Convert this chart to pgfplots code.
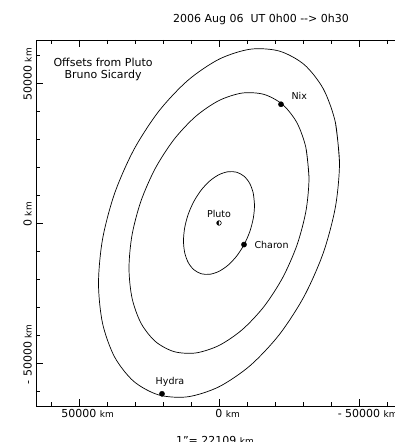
\documentclass[border=0pt]{standalone}
\usepackage{fontspec}
\setmainfont{DejaVu Sans}
\usepackage{pgfplots}
\pgfplotsset{compat=1.18}
\usetikzlibrary{plotmarks}
\newcommand\km{{\hspace{3.5pt}\fontsize{9}{10}\selectfont km}}
\newcommand\lab[1]{\phantom{\km}#1\km}
\begin{document}
\begin{tikzpicture}[font=\fontsize{11}{13}\selectfont]
\begin{axis}[
  scale only axis, width=366pt, height=366pt,
  xmin=-65357, xmax=65357, ymin=-65357, ymax=65357,
  x dir=reverse,
  scaled ticks=false,
  axis line style={line width=0.8pt},
  tick align=inside,
  xtick={-50000,0,50000},
  xticklabels={{\lab{- 50000}},{\lab{0}},{\lab{50000}}},
  ytick={-50000,0,50000},
  yticklabels={{\lab{- 50000}},{\lab{0}},{\lab{50000}}},
  minor xtick={-60000,-40000,-30000,-20000,-10000,10000,20000,30000,40000,60000},
  minor ytick={-60000,-40000,-30000,-20000,-10000,10000,20000,30000,40000,60000},
  major tick length=7pt, minor tick length=4pt,
  tick style={black, line width=0.8pt},
  tick label style={font=\fontsize{11}{13}\selectfont, inner sep=0pt},
  xticklabel style={anchor=north},
  yticklabel style={rotate=90, anchor=south},
  xticklabel shift=3pt, yticklabel shift=4pt,
  clip=false,
]
% Hydra orbit
\addplot[black, line width=0.7pt, smooth] coordinates {
(-43036,21520) (-41569,35922) (-37269,47881) (-30431,56575) (-21518,61411) (-11138,62066)
(0,58488) (11138,50923) (21518,39892) (30431,26144) (37269,10607) (41569,-5646)
(43036,-21520) (41569,-35922) (37269,-47881) (30431,-56575) (21518,-61411) (11138,-62066)
(0,-58488) (-11138,-50923) (-21518,-39892) (-30431,-26144) (-37269,-10607) (-41569,5646)
(-43036,21520) (-41569,35922)};
% Nix orbit
\addplot[black, line width=0.7pt, smooth] coordinates {
(-32143,16093) (-31047,26864) (-27836,35808) (-22728,42310) (-16072,45927) (-8319,46416)
(0,43741) (8319,38083) (16072,29833) (22728,19552) (27836,7933) (31047,-4223)
(32143,-16093) (31047,-26864) (27836,-35808) (22728,-42310) (16072,-45927) (8319,-46416)
(0,-43741) (-8319,-38083) (-16072,-29833) (-22728,-19552) (-27836,-7933) (-31047,4223)
(-32143,16093) (-31047,26864)};
% Charon orbit
\addplot[black, line width=0.7pt, smooth] coordinates {
(-12679,6351) (-12247,10602) (-10980,14131) (-8965,16697) (-6340,18124) (-3281,18318)
(0,17262) (3281,15029) (6340,11773) (8965,7716) (10980,3130) (12247,-1666)
(12679,-6351) (12247,-10602) (10980,-14131) (8965,-16697) (6340,-18124) (3281,-18318)
(0,-17262) (-3281,-15029) (-6340,-11773) (-8965,-7716) (-10980,-3130) (-12247,1666)
(-12679,6351) (-12247,10602)};
% Pluto
\addplot[only marks, mark=halfcircle*, mark size=2.3pt, mark options={rotate=90, draw=black, fill=black, line width=0.6pt}] coordinates {(0,0)};
% moons
\addplot[only marks, mark=*, mark size=2.6pt, black] coordinates {(-8929,-7700) (-22143,42400) (20357,-61000)};
\node[anchor=base, font=\fontsize{9.5}{11}\selectfont, yshift=6pt] at (axis cs:0,0) {Pluto};
\node[anchor=base west, font=\fontsize{9.5}{11}\selectfont, xshift=7pt, yshift=-4pt] at (axis cs:-8929,-7700) {Charon};
\node[anchor=base west, font=\fontsize{9.5}{11}\selectfont, xshift=7pt, yshift=5pt] at (axis cs:-22143,42400) {Nix};
\node[anchor=base, font=\fontsize{9.5}{11}\selectfont, xshift=8pt, yshift=9pt] at (axis cs:20357,-61000) {Hydra};
\node[align=center, font=\fontsize{11}{12}\selectfont] at (axis cs:41400,55000) {Offsets from Pluto\\Bruno Sicardy};
\node[anchor=base, yshift=17pt] at (axis cs:-15000,65357) {2006 Aug 06\ \ UT 0h00 -{}-> 0h30};
\node[anchor=base, yshift=-38pt] at (axis cs:1430,-65357) {1\symbol{34}= 22109\km};
\end{axis}
\pgfresetboundingbox
\path ([xshift=-36pt,yshift=-36pt]current axis.south west) rectangle ([xshift=358pt,yshift=40pt]current axis.north west);
\end{tikzpicture}
\end{document}
